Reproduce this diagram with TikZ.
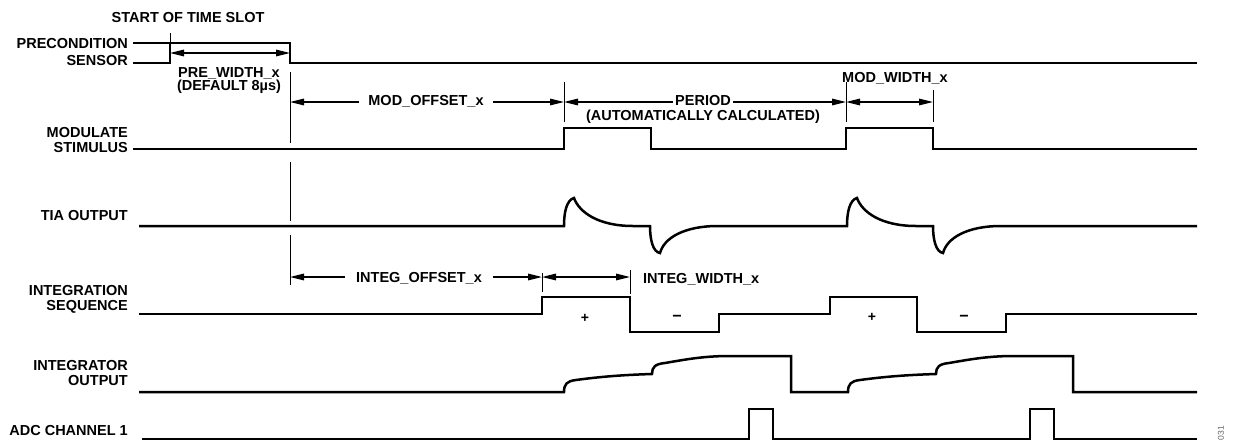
\documentclass[tikz,border=0pt]{standalone}
\usepackage{fontspec}
\setmainfont{Liberation Sans}
\usetikzlibrary{arrows.meta}
\begin{document}
\begin{tikzpicture}[x=1pt,y=-1pt,
  sig/.style={line width=2.5pt, line join=miter},
  thinln/.style={line width=1pt},
  dim/.style={line width=1.5pt, -{Triangle[length=14pt,width=6.5pt]}},
  dimboth/.style={line width=1.5pt, {Triangle[length=14pt,width=6.5pt]}-{Triangle[length=14pt,width=6.5pt]}},
  lbl/.style={font=\fontsize{14.5}{16}\selectfont\bfseries, inner sep=0pt, anchor=base east},
  txt/.style={font=\fontsize{14.5}{16}\selectfont\bfseries, inner ysep=0pt, anchor=base},
  pm/.style={font=\fontsize{14}{14}\selectfont\bfseries, inner sep=0pt},
  mn/.style={font=\fontsize{16}{16}\selectfont\bfseries, inner sep=0pt}]
\useasboundingbox (0,0) rectangle (1236,442);

% ---- row labels
\node[lbl] (pre1) at (128,48) {PRECONDITION};
\node[lbl] (pre2) at (128,65) {SENSOR};
\node[lbl] (mod1) at (128,137) {MODULATE};
\node[lbl] (mod2) at (128,152) {STIMULUS};
\node[lbl] (tia)  at (128,220) {TIA OUTPUT};
\node[lbl] (int1) at (128,295) {INTEGRATION};
\node[lbl] (int2) at (128,310) {SEQUENCE};
\node[lbl] (io1)  at (128,370) {INTEGRATOR};
\node[lbl] (io2)  at (128,385) {OUTPUT};
\node[lbl] (adc)  at (128,435) {ADC CHANNEL 1};

% ---- signals
\draw[sig] (133,43) -- (290,43) -- (290,63) -- (1197,63);
\draw[sig] (133,63) -- (170,63) -- (170,43);
\draw[thinln] (170,43) -- (170,33);

\draw[sig] (133,149) -- (564,149) -- (564,128) -- (651,128) -- (651,149) -- (846,149) -- (846,128) -- (933,128) -- (933,149) -- (1197,149);

\draw[sig] (139,226) -- (564,226)
  .. controls (564,211) and (567,200) .. (574,198)
  .. controls (579,212) and (598,226) .. (633,226) -- (650,226)
  .. controls (650,240) and (653,252) .. (660,253)
  .. controls (664,238) and (684,226) .. (718,226) -- (847,226)
  .. controls (847,211) and (850,200) .. (857,198)
  .. controls (862,212) and (881,226) .. (916,226) -- (933,226)
  .. controls (933,240) and (936,252) .. (943,253)
  .. controls (947,238) and (967,226) .. (1001,226) -- (1197,226);

\draw[sig] (139,314) -- (542,314) -- (542,297) -- (630,297) -- (630,332) -- (719,332) -- (719,314) -- (830,314) -- (830,297) -- (917,297) -- (917,332) -- (1006,332) -- (1006,314) -- (1197,314);

\draw[sig] (139,392) -- (564,392)
  .. controls (564,384) and (567,381) .. (576,380)
  .. controls (598,377) and (620,375) .. (652,374)
  .. controls (652,367) and (655,364) .. (665,363)
  .. controls (688,359) and (705,356) .. (730,356) -- (791,356) -- (791,392) -- (848,392)
  .. controls (848,384) and (851,381) .. (860,380)
  .. controls (882,377) and (904,375) .. (936,374)
  .. controls (936,367) and (939,364) .. (949,363)
  .. controls (972,359) and (989,356) .. (1014,356) -- (1073,356) -- (1073,392) -- (1197,392);

\draw[sig] (142,439) -- (749,439) -- (749,409) -- (773,409) -- (773,439) -- (1030,439) -- (1030,409) -- (1054,409) -- (1054,439) -- (1197,439);

% ---- markers
\draw[thinln] (290,72) -- (290,143);
\draw[thinln] (290,162) -- (290,221);
\draw[thinln] (290,235) -- (290,285);
\draw[thinln] (564,82) -- (564,122);
\draw[thinln] (846,82) -- (846,122);
\draw[thinln] (933,90) -- (933,122);
\draw[thinln] (542,273) -- (542,292);
\draw[thinln] (630,270) -- (630,294);

% ---- dimension texts
\node[txt] (start) at (188,22) {START OF TIME SLOT};
\node[txt] (pw) at (229,77) {PRE\_WIDTH\_x};
\node[txt] (pwd) at (229,90) {(DEFAULT 8µs)};
\node[txt, inner xsep=9pt] (mo) at (426,105) {MOD\_OFFSET\_x};
\node[txt, inner xsep=2pt] (pd) at (703,105) {PERIOD};
\node[txt] (auto) at (703,120) {(AUTOMATICALLY CALCULATED)};
\node[txt] (mw) at (895,82) {MOD\_WIDTH\_x};
\node[txt, inner xsep=11pt] (iot) at (419,282) {INTEG\_OFFSET\_x};
\node[txt, anchor=base west, inner xsep=0pt] (iw) at (643,283) {INTEG\_WIDTH\_x};

\node[pm] (p1) at (585,318) {+};
\node[mn] (m1) at (677,318) {−};
\node[pm] (p2) at (872,317) {+};
\node[mn] (m2) at (964,318) {−};

\node[font=\fontsize{8.5}{8.5}\selectfont, text=black!60, rotate=90, inner sep=0pt] (fig) at (1221,433) {031};

% ---- dimension arrows
\coordinate (pa) at (170,53);
\coordinate (pb) at (290,53);
\draw[dimboth] (pa) -- (pb);

\coordinate (a290) at (290,102);
\coordinate (a564) at (564,102);
\coordinate (a846) at (846,102);
\coordinate (a933) at (933,102);
\draw[dim] (mo.west |- a290) -- (a290);
\draw[dim] (mo.east |- a290) -- (a564);
\draw[dim] (pd.west |- a564) -- (a564);
\draw[dim] (pd.east |- a564) -- (a846);
\draw[dimboth] (a846) -- (a933);

\coordinate (b290) at (290,277);
\coordinate (b542) at (542,277);
\coordinate (b630) at (630,277);
\draw[dim] (iot.west |- b290) -- (b290);
\draw[dim] (iot.east |- b290) -- (b542);
\draw[dimboth] (b542) -- (b630);
\end{tikzpicture}
\end{document}
